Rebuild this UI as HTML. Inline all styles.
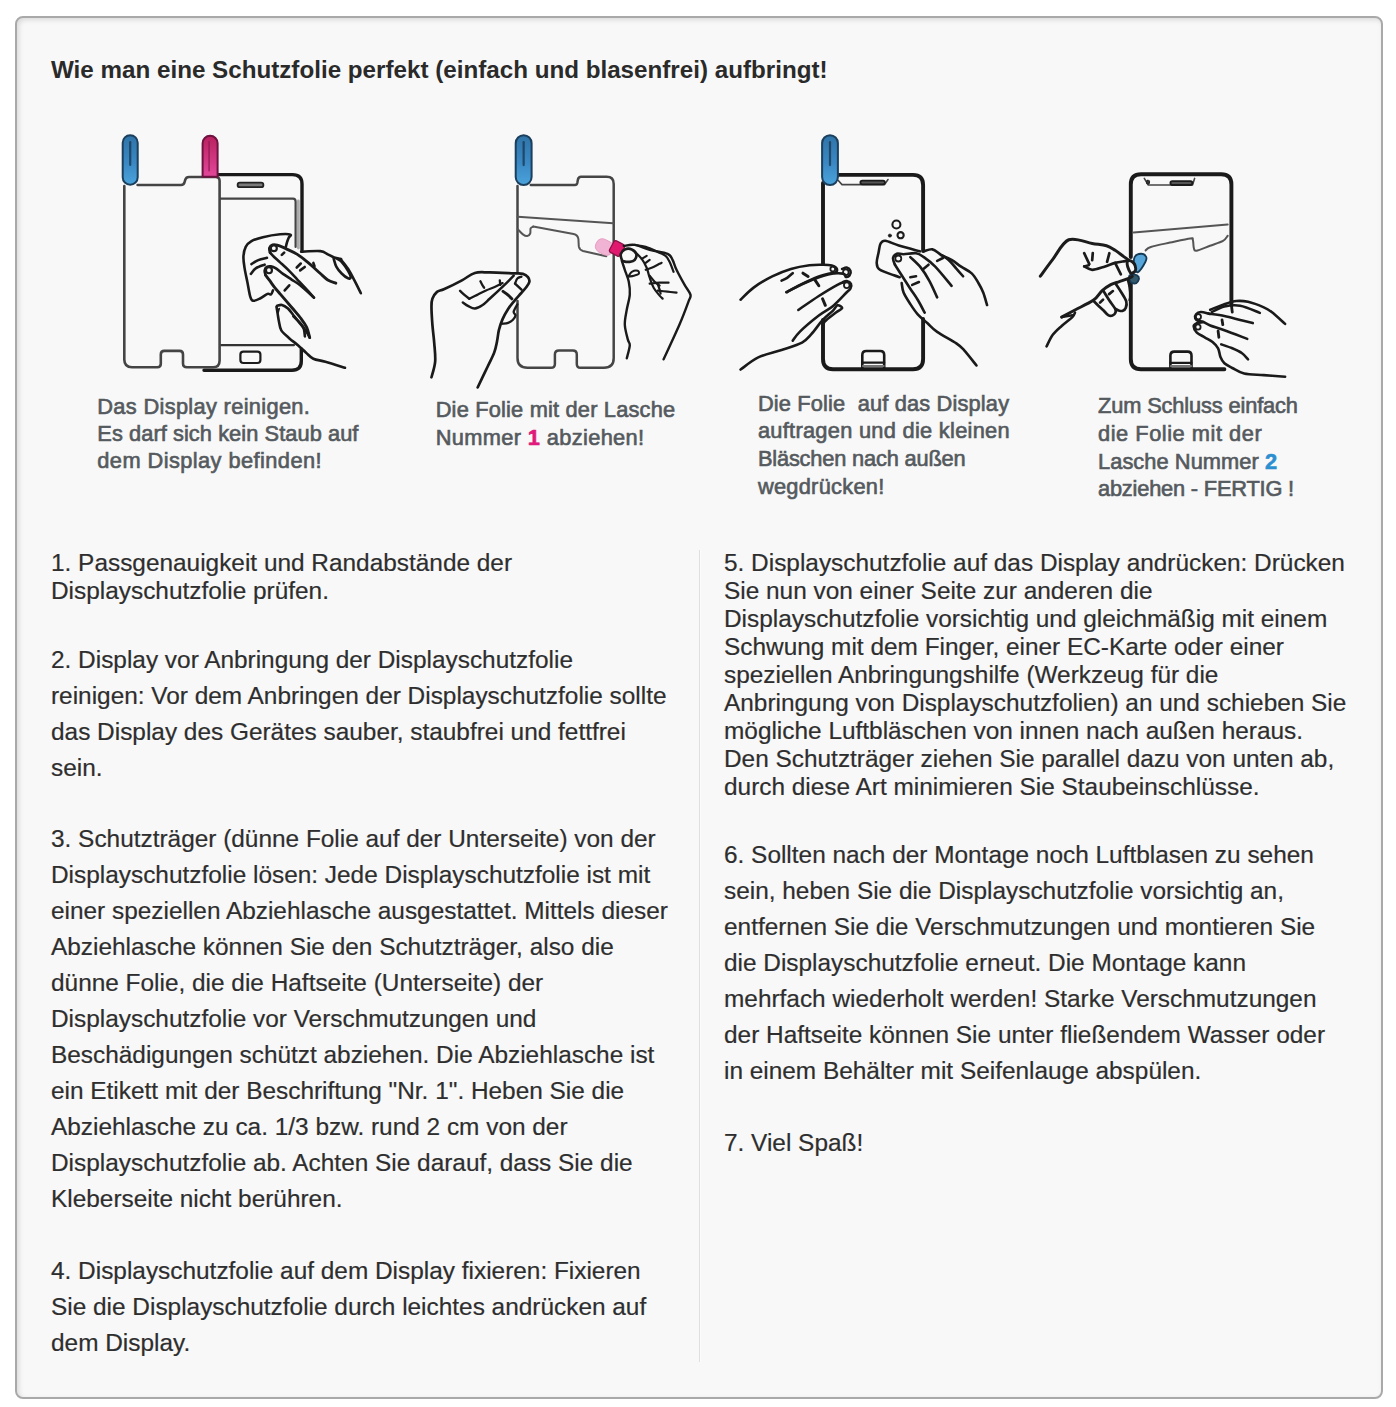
<!DOCTYPE html>
<html><head><meta charset="utf-8">
<style>
html,body{margin:0;padding:0;background:#fff;width:1396px;height:1407px;overflow:hidden}
body{font-family:"Liberation Sans",sans-serif;color:#2e2e2e;position:relative}
#box{position:absolute;left:15px;top:16px;width:1364px;height:1379px;border:2px solid #a9a9a9;border-radius:8px;background:#f8f8f8;box-shadow:inset 2px 2px 5px rgba(0,0,0,0.12)}
.t{position:absolute;white-space:nowrap;font-size:24.4px;-webkit-text-stroke:0.2px #2e2e2e}
h1{position:absolute;left:51px;top:56px;margin:0;font-size:24.2px;font-weight:bold;line-height:28px;white-space:nowrap;color:#2a2a2a}
.l28{line-height:28px}
.l36{line-height:36px}
#div{position:absolute;left:699px;top:550px;width:1px;height:812px;background:#dfdfdf;box-shadow:1px 0 0 #fcfcfc}
.cap{position:absolute;white-space:nowrap;font-weight:normal;font-size:21.8px;line-height:27.7px;color:#555a5e;-webkit-text-stroke:0.65px #555a5e}
.cap b{-webkit-text-stroke:0.6px currentColor}
svg{position:absolute;left:0;top:0}
</style></head><body>
<div id="box"></div>
<h1>Wie man eine Schutzfolie perfekt (einfach und blasenfrei) aufbringt!</h1>

<div id="div"></div>

<div class="t l28" style="left:51px;top:549px">1. Passgenauigkeit und Randabstände der<br>Displayschutzfolie prüfen.</div>
<div class="t l36" style="left:51px;top:642px">2. Display vor Anbringung der Displayschutzfolie<br>reinigen: Vor dem Anbringen der Displayschutzfolie sollte<br>das Display des Gerätes sauber, staubfrei und fettfrei<br>sein.</div>
<div class="t l36" style="left:51px;top:821px">3. Schutzträger (dünne Folie auf der Unterseite) von der<br>Displayschutzfolie lösen: Jede Displayschutzfolie ist mit<br>einer speziellen Abziehlasche ausgestattet. Mittels dieser<br>Abziehlasche können Sie den Schutzträger, also die<br>dünne Folie, die die Haftseite (Unterseite) der<br>Displayschutzfolie vor Verschmutzungen und<br>Beschädigungen schützt abziehen. Die Abziehlasche ist<br>ein Etikett mit der Beschriftung "Nr. 1". Heben Sie die<br>Abziehlasche zu ca. 1/3 bzw. rund 2 cm von der<br>Displayschutzfolie ab. Achten Sie darauf, dass Sie die<br>Kleberseite nicht berühren.</div>
<div class="t l36" style="left:51px;top:1253px">4. Displayschutzfolie auf dem Display fixieren: Fixieren<br>Sie die Displayschutzfolie durch leichtes andrücken auf<br>dem Display.</div>

<div class="t l28" style="left:724px;top:549px">5. Displayschutzfolie auf das Display andrücken: Drücken<br>Sie nun von einer Seite zur anderen die<br>Displayschutzfolie vorsichtig und gleichmäßig mit einem<br>Schwung mit dem Finger, einer EC-Karte oder einer<br>speziellen Anbringungshilfe (Werkzeug für die<br>Anbringung von Displayschutzfolien) an und schieben Sie<br>mögliche Luftbläschen von innen nach außen heraus.<br>Den Schutzträger ziehen Sie parallel dazu von unten ab,<br>durch diese Art minimieren Sie Staubeinschlüsse.</div>
<div class="t l36" style="left:724px;top:837px">6. Sollten nach der Montage noch Luftblasen zu sehen<br>sein, heben Sie die Displayschutzfolie vorsichtig an,<br>entfernen Sie die Verschmutzungen und montieren Sie<br>die Displayschutzfolie erneut. Die Montage kann<br>mehrfach wiederholt werden! Starke Verschmutzungen<br>der Haftseite können Sie unter fließendem Wasser oder<br>in einem Behälter mit Seifenlauge abspülen.</div>
<div class="t l36" style="left:724px;top:1125px">7. Viel Spaß!</div>

<svg width="1396" height="1407" viewBox="0 0 1396 1407" style="position:absolute;left:0;top:0" stroke-linecap="round" stroke-linejoin="round">
<defs><linearGradient id="gb" x1="0" y1="0" x2="0" y2="1"><stop offset="0" stop-color="#2f74a8"/><stop offset="0.55" stop-color="#3a88c3"/><stop offset="1" stop-color="#4ba3dc"/></linearGradient><linearGradient id="gp" x1="0" y1="0" x2="0" y2="1"><stop offset="0" stop-color="#b8205f"/><stop offset="1" stop-color="#e2489a"/></linearGradient></defs>
<path d="M298.4 201V248" fill="none" stroke="#ababab" stroke-width="2.8" />
<path d="M217 174.6H292.5Q302 174.6 302 184V250" fill="none" stroke="#1a1a1a" stroke-width="3.4" />
<path d="M301.3 349V361Q301.3 370.2 292 370.2H204" fill="none" stroke="#1a1a1a" stroke-width="3.4" />
<path d="M220.5 198.6H293Q295.6 198.6 295.6 201.5V247" fill="none" stroke="#444" stroke-width="2.2" />
<path d="M221 345.1H294" fill="none" stroke="#333" stroke-width="2.2" />
<rect x="240.40" y="351.60" width="20.00" height="11.40" rx="3.00" fill="none" stroke="#1c1c1c" stroke-width="2.2"/>
<rect x="237.60" y="182.60" width="25.80" height="4.60" rx="2.30" fill="#7a7a7a" stroke="#222" stroke-width="1.8"/>
<path d="M137.6 185H181Q184 185 184.6 182L185.3 179.6Q186.2 177 189 177H215.6Q219.6 177 219.6 181V360.5Q219.6 367.3 213 367.3H187Q183 367.3 183 363.5V354.6Q183 350.9 179.5 350.9H164.3Q160.8 350.9 160.8 354.4V363.8Q160.8 367.3 157.3 367.3H132Q124.3 367.3 124.3 359.6V186" fill="none" stroke="#444" stroke-width="2.6" />
<rect x="122.70" y="135.20" width="15.00" height="49.50" rx="7.50" fill="url(#gb)" stroke="#1b3f5c" stroke-width="2"/>
<path d="M130.20 142.20V164.90" stroke="#17354f" stroke-width="2.2" opacity="0.75"/>
<path d="M202.60 176.80V143.30A7.50 7.50 0 0 1 217.60 143.30V176.80Z" fill="url(#gp)" stroke="#6e1240" stroke-width="2"/>
<path d="M209.10 141.80V170.65" stroke="#8e1650" stroke-width="1.6" opacity="0.7"/>
<path d="M272.95 290.46C272.62 291.13 271.86 293.91 270.95 294.48C270.04 295.05 269.32 293.23 267.51 293.90C265.69 294.57 262.45 297.34 260.06 298.49C257.67 299.64 254.80 301.07 253.18 300.78C251.56 300.49 251.28 299.83 250.32 296.77C249.36 293.71 248.41 287.22 247.45 282.44C246.49 277.66 245.25 272.41 244.58 268.11C243.91 263.81 243.25 260.18 243.44 256.65C243.63 253.12 244.39 249.49 245.73 246.91C247.07 244.33 248.59 242.80 251.46 241.18C254.33 239.56 258.15 238.32 262.92 237.17C267.69 236.02 275.53 234.73 280.11 234.30C284.69 233.87 289.00 234.02 290.43 234.59C291.86 235.16 289.28 236.45 288.71 237.74C288.14 239.03 287.47 240.80 286.99 242.33C286.51 243.86 286.04 246.15 285.85 246.91" fill="none" stroke="#1a1a1a" stroke-width="2.6" />
<path d="M251.46 264.10C252.61 263.43 255.76 261.14 258.34 260.09C260.92 259.04 265.50 258.18 266.93 257.80" fill="none" stroke="#1a1a1a" stroke-width="2.6" />
<path d="M250.89 273.85C251.75 272.89 253.76 269.64 256.05 268.11C258.34 266.58 263.21 265.25 264.64 264.68" fill="none" stroke="#1a1a1a" stroke-width="2.6" />
<path d="M270.09 252.64C269.99 251.88 269.08 249.35 269.51 248.06C269.94 246.77 271.37 245.39 272.66 244.91C273.95 244.43 275.05 244.57 277.25 245.19C279.45 245.81 282.51 247.10 285.85 248.63C289.19 250.16 293.34 251.81 297.31 254.36C301.28 256.91 305.81 260.74 309.65 263.93C313.48 267.12 317.30 270.85 320.32 273.52C323.34 276.19 325.20 278.32 327.78 279.92C330.36 281.52 334.45 282.59 335.78 283.12" fill="none" stroke="#1c1c1c" stroke-width="2.91" />
<path d="M270.09 252.64C270.80 253.41 272.71 255.61 274.38 257.23C276.05 258.85 277.72 260.18 280.11 262.38C282.50 264.58 285.84 267.54 288.71 270.41C291.58 273.28 294.44 276.52 297.31 279.58C300.18 282.63 303.13 285.73 305.90 288.74C308.67 291.75 312.59 296.15 313.93 297.63" fill="none" stroke="#1a1a1a" stroke-width="2.6" />
<path d="M265.50 274.99C265.36 274.23 264.40 271.75 264.64 270.41C264.88 269.07 265.88 267.64 266.93 266.97C267.98 266.30 269.52 266.21 270.95 266.40C272.38 266.59 273.52 266.87 275.53 268.11C277.53 269.35 280.31 271.94 282.98 273.85C285.66 275.76 288.71 277.67 291.58 279.58C294.44 281.49 296.44 282.30 300.17 285.31C303.90 288.32 311.64 295.58 313.93 297.63" fill="none" stroke="#1a1a1a" stroke-width="2.6" />
<path d="M265.50 274.99C266.22 275.94 268.32 278.71 269.80 280.72C271.28 282.73 272.66 284.83 274.38 287.03C276.10 289.23 277.14 290.41 280.11 293.90C283.08 297.39 288.67 303.80 292.19 307.96C295.71 312.12 298.83 315.62 301.25 318.84C303.67 322.06 305.28 324.18 306.69 327.30C308.10 330.42 309.21 335.86 309.71 337.57" fill="none" stroke="#1c1c1c" stroke-width="2.91" />
<circle cx="273.81" cy="248.17" r="3.00" fill="none" stroke="#1c1c1c" stroke-width="2.2"/>
<circle cx="268.94" cy="270.23" r="3.00" fill="none" stroke="#1c1c1c" stroke-width="2.2"/>
<path d="M277.08 305.85C277.89 305.70 280.11 304.49 281.92 304.94C283.73 305.39 286.05 306.85 287.96 308.56C289.87 310.27 291.69 313.09 293.40 315.21C295.11 317.32 296.52 319.03 298.23 321.25C299.94 323.47 302.56 325.98 303.67 328.50C304.78 331.02 304.68 335.05 304.88 336.36" fill="none" stroke="#1a1a1a" stroke-width="2.6" />
<path d="M293.40 316.42C294.71 317.73 299.03 321.65 301.25 324.27C303.47 326.89 305.28 329.91 306.69 332.13C308.10 334.35 309.21 336.66 309.71 337.57" fill="none" stroke="#1a1a1a" stroke-width="2.6" />
<path d="M276.48 306.75C276.68 307.96 277.29 311.58 277.69 314.00C278.09 316.42 278.30 318.53 278.90 321.25C279.50 323.97 279.60 327.50 281.31 330.32C283.02 333.14 286.35 335.65 289.17 338.17C291.99 340.69 295.41 343.00 298.23 345.42C301.05 347.84 303.57 350.45 306.09 352.67C308.61 354.89 310.12 357.21 313.34 358.72C316.56 360.23 320.14 360.23 325.42 361.74C330.70 363.25 341.74 366.77 345.00 367.78" fill="none" stroke="#1a1a1a" stroke-width="2.6" />
<path d="M277.99 312.79L279.20 308.56" fill="none" stroke="#1a1a1a" stroke-width="1.8" />
<path d="M301.12 251.66C304.32 251.57 315.88 250.69 320.32 251.13C324.76 251.57 325.47 253.26 327.78 254.33C330.09 255.40 331.96 256.73 334.18 257.53C336.40 258.33 339.96 258.86 341.11 259.13" fill="none" stroke="#1a1a1a" stroke-width="2.6" />
<path d="M333.65 258.59C334.09 259.92 334.98 264.10 336.31 266.59C337.64 269.08 339.69 271.56 341.64 273.52C343.59 275.47 346.53 277.70 348.04 278.32C349.55 278.94 350.71 278.50 350.71 277.26C350.71 276.02 349.55 273.44 348.04 270.86C346.53 268.28 343.42 263.78 341.64 261.79C339.86 259.80 338.09 259.39 337.38 258.91" fill="none" stroke="#1a1a1a" stroke-width="2.6" />
<path d="M340.58 259.13C341.82 260.73 345.73 265.17 348.04 268.72C350.35 272.27 352.31 276.36 354.44 280.45C356.57 284.54 359.77 291.12 360.84 293.25" fill="none" stroke="#1a1a1a" stroke-width="2.6" />
<path d="M281.83 254.93L284.13 252.64" fill="none" stroke="#1a1a1a" stroke-width="2.6" />
<path d="M296.73 267.54L300.74 263.53" fill="none" stroke="#1a1a1a" stroke-width="2.6" />
<path d="M300.17 270.41L304.76 266.97" fill="none" stroke="#1a1a1a" stroke-width="2.6" />
<path d="M284.70 290.46L289.28 285.31" fill="none" stroke="#1a1a1a" stroke-width="2.6" />
<path d="M313.35 262.96L314.50 266.11" fill="none" stroke="#1a1a1a" stroke-width="2.6" />
<path d="M530.8 185H575Q576.8 185 577.3 183L577.9 179.6Q578.6 176.8 581 176.8H606.7Q613.7 176.8 613.7 184V358Q613.7 367.8 604 367.8H580.5Q576.8 367.8 576.8 364V354.6Q576.8 350.6 572.8 350.6H559Q554.9 350.6 554.9 354.6V364Q554.9 367.8 551 367.8H527.5Q517.5 367.8 517.5 358V301" fill="none" stroke="#454545" stroke-width="2.5" />
<path d="M517.5 272V186" fill="none" stroke="#454545" stroke-width="2.5" />
<path d="M517.7 216.8L613.2 223.2" fill="none" stroke="#555" stroke-width="2.0" />
<path d="M517.70 229.20C518.57 230.07 521.32 233.25 522.90 234.40C524.48 235.55 525.98 236.25 527.20 236.10C528.42 235.95 529.63 234.78 530.20 233.50C530.77 232.22 530.10 229.55 530.60 228.40C531.10 227.25 532.77 226.90 533.20 226.60" fill="none" stroke="#555" stroke-width="2.0" />
<path d="M533.2 226.6L573.6 234Q577.9 235 578.4 239L578.8 246.4Q579.5 250 583 251L606.3 256.3" fill="none" stroke="#555" stroke-width="2.0" />
<rect x="515.70" y="135.20" width="15.90" height="49.80" rx="7.95" fill="url(#gb)" stroke="#1b3f5c" stroke-width="2"/>
<path d="M523.65 142.20V165.08" stroke="#17354f" stroke-width="2.2" opacity="0.75"/>
<g transform="translate(604.5 247) rotate(28)"><rect x="-9" y="-7" width="18" height="14" rx="6" fill="#f1b3d3" stroke="#e8a0c4" stroke-width="1"/></g>
<g transform="translate(617 248.5) rotate(28)"><rect x="-6" y="-6.5" width="12" height="13" rx="2" fill="#e0196f" stroke="#8a1046" stroke-width="1.2"/></g>
<path d="M431.47 377.30C432.09 374.68 434.70 367.30 435.16 361.60C435.62 355.91 434.70 349.29 434.24 343.13C433.78 336.97 432.85 330.81 432.39 324.65C431.93 318.49 431.47 310.49 431.47 306.18C431.47 301.87 431.47 301.18 432.39 298.79C433.31 296.40 435.01 293.48 437.01 291.86C439.01 290.24 440.25 291.01 444.40 289.09C448.55 287.17 456.86 283.01 461.94 280.32C467.02 277.63 470.26 274.24 474.88 272.93C479.50 271.62 483.19 272.39 489.65 272.47C496.11 272.55 508.13 273.16 513.67 273.39C519.21 273.62 520.51 273.23 522.90 273.85C525.28 274.47 526.90 275.78 527.98 277.09C529.06 278.40 529.60 280.08 529.37 281.70C529.14 283.31 527.99 284.85 526.60 286.78C525.22 288.70 523.06 290.94 521.06 293.25C519.06 295.56 516.75 298.02 514.59 300.64C512.44 303.26 510.13 305.87 508.13 308.95C506.13 312.03 504.12 315.57 502.58 319.11C501.04 322.65 499.81 326.50 498.89 330.19C497.97 333.88 497.81 337.58 497.04 341.28C496.27 344.97 495.81 348.20 494.27 352.36C492.73 356.52 490.58 360.37 487.81 366.22C485.04 372.07 479.34 383.92 477.65 387.46" fill="none" stroke="#1a1a1a" stroke-width="2.7" />
<path d="M515.05 283.55L521.52 289.56" fill="none" stroke="#1a1a1a" stroke-width="2.5" />
<path d="M515.05 283.55C515.43 282.70 516.28 279.62 517.36 278.47C518.44 277.32 520.83 276.94 521.52 276.63" fill="none" stroke="#1a1a1a" stroke-width="2.2" />
<path d="M513.67 275.70C511.98 277.39 507.51 282.01 503.51 285.86C499.51 289.71 493.19 295.56 489.65 298.79C486.11 302.02 484.72 303.64 482.26 305.26C479.80 306.88 477.19 308.34 474.88 308.49C472.57 308.64 470.41 307.18 468.41 306.18C466.41 305.18 463.79 303.11 462.87 302.49" fill="none" stroke="#1a1a1a" stroke-width="2.5" />
<path d="M460.10 290.94C460.87 291.63 463.18 293.79 464.72 295.10C466.26 296.41 468.56 298.18 469.33 298.79" fill="none" stroke="#1a1a1a" stroke-width="2.5" />
<path d="M469.33 298.79C470.56 298.18 473.95 296.49 476.72 295.10C479.49 293.72 482.88 291.87 485.96 290.48C489.04 289.09 492.42 288.01 495.19 286.78C497.96 285.55 501.35 283.70 502.58 283.09" fill="none" stroke="#1a1a1a" stroke-width="2.3" />
<path d="M480.42 281.24C480.73 281.86 481.64 283.86 482.26 284.94C482.88 286.02 483.80 287.25 484.11 287.71" fill="none" stroke="#1a1a1a" stroke-width="2.3" />
<path d="M499.81 280.32L500.27 284.94" fill="none" stroke="#1a1a1a" stroke-width="2.3" />
<path d="M503.05 291.40C503.90 292.02 506.67 293.87 508.13 295.10C509.59 296.33 511.20 298.18 511.82 298.79" fill="none" stroke="#1a1a1a" stroke-width="3.0" />
<path d="M502.58 323.73C503.50 323.58 506.44 323.43 508.13 322.81C509.82 322.19 511.51 321.27 512.74 320.04C513.97 318.81 515.36 316.81 515.51 315.42C515.66 314.03 513.36 313.57 513.67 311.72C513.98 309.87 516.75 305.56 517.36 304.33" fill="none" stroke="#1a1a1a" stroke-width="2.3" />
<path d="M623.81 245.91C625.63 245.75 630.44 244.26 634.75 244.92C639.06 245.58 644.20 248.40 649.67 249.89C655.14 251.38 663.76 252.21 667.57 253.87C671.38 255.53 671.06 257.19 672.55 259.84C674.04 262.49 674.53 265.64 676.52 269.78C678.51 273.92 682.16 280.56 684.48 284.70C686.80 288.84 689.79 291.82 690.45 294.64C691.11 297.46 690.28 296.64 688.46 301.61C686.64 306.58 683.65 314.87 679.51 324.48C675.37 334.09 666.25 353.49 663.60 359.29" fill="none" stroke="#1a1a1a" stroke-width="2.4" />
<path d="M634.75 244.92C636.57 245.25 641.88 245.75 645.69 246.91C649.50 248.07 654.32 250.39 657.63 251.88C660.94 253.37 663.59 254.20 665.58 255.86C667.57 257.52 668.23 259.17 669.56 261.82C670.89 264.47 672.88 270.11 673.54 271.77" fill="none" stroke="#1a1a1a" stroke-width="2.2" />
<path d="M621.82 259.84C621.32 258.60 620.33 255.61 620.83 253.87C621.33 252.13 622.99 250.14 624.81 249.39C626.63 248.64 629.86 248.64 631.77 249.39C633.68 250.14 635.75 252.13 636.25 253.87C636.75 255.61 635.83 258.51 634.75 259.84C633.67 261.16 631.60 261.57 629.78 261.82C627.96 262.07 625.14 261.66 623.81 261.33C622.48 261.00 622.32 261.08 621.82 259.84Z" fill="none" stroke="#1c1c1c" stroke-width="2.69" />
<path d="M621.82 260.83C622.32 262.32 623.65 266.30 624.81 269.78C625.97 273.26 627.96 277.58 628.79 281.72C629.62 285.86 630.11 290.00 629.78 294.64C629.45 299.28 627.63 304.59 626.80 309.56C625.97 314.53 624.64 319.51 624.81 324.48C624.97 329.45 626.96 335.92 627.79 339.40C628.62 342.88 629.94 342.22 629.78 345.37C629.62 348.52 627.30 356.14 626.80 358.29" fill="none" stroke="#1a1a1a" stroke-width="2.4" />
<path d="M628.79 275.75C629.29 275.09 630.28 272.60 631.77 271.77C633.26 270.94 636.58 270.45 637.74 270.78C638.90 271.11 639.39 272.93 638.73 273.76C638.07 274.59 635.42 275.25 633.76 275.75C632.10 276.25 629.62 276.57 628.79 276.74" fill="none" stroke="#1a1a1a" stroke-width="2.0" />
<path d="M633.76 250.89C635.09 252.21 639.57 256.02 641.72 258.84C643.88 261.66 645.37 264.64 646.69 267.79C648.02 270.94 648.51 274.43 649.67 277.74C650.83 281.06 651.99 284.70 653.65 287.68C655.31 290.66 658.13 293.82 659.62 295.64C661.11 297.46 662.10 298.12 662.60 298.62" fill="none" stroke="#1a1a1a" stroke-width="2.2" />
<path d="M641.72 258.84L646.69 255.86" fill="none" stroke="#1a1a1a" stroke-width="2.2" />
<path d="M645.69 262.82L649.67 259.84" fill="none" stroke="#1a1a1a" stroke-width="2.2" />
<path d="M645.69 269.78C646.69 269.45 649.34 268.79 651.66 267.79C653.98 266.80 657.96 264.64 659.62 263.81C661.28 262.98 661.28 262.99 661.61 262.82" fill="none" stroke="#1a1a1a" stroke-width="2.2" />
<path d="M649.67 283.70C651.33 283.53 656.47 282.88 659.62 282.71C662.77 282.54 667.08 282.71 668.57 282.71" fill="none" stroke="#1a1a1a" stroke-width="2.2" />
<path d="M657.63 290.67C659.29 290.84 664.42 291.33 667.57 291.66C670.72 291.99 675.03 292.49 676.52 292.66" fill="none" stroke="#1a1a1a" stroke-width="2.2" />
<path d="M649.67 275.75C650.50 276.75 652.98 280.06 654.64 281.72C656.30 283.38 658.79 285.03 659.62 285.69" fill="none" stroke="#1a1a1a" stroke-width="2.2" />
<path d="M657.63 283.70C657.96 284.69 659.12 288.01 659.62 289.67C660.12 291.33 660.45 292.99 660.61 293.65" fill="none" stroke="#1a1a1a" stroke-width="2.2" />
<path d="M838.5 174.9H913Q923.1 174.9 923.1 185V251" fill="none" stroke="#1a1a1a" stroke-width="3.9" />
<path d="M823 264V183" fill="none" stroke="#1a1a1a" stroke-width="3.9" />
<path d="M823 320V359Q823 369.2 833 369.2H913Q923.1 369.2 923.1 359V319" fill="none" stroke="#1a1a1a" stroke-width="3.9" />
<path d="M838.3 180.5L842 184.6H884.5L888 179.5" fill="none" stroke="#444" stroke-width="1.6" />
<rect x="860.40" y="180.60" width="24.50" height="3.80" rx="1.90" fill="#555" stroke="#1a1a1a" stroke-width="1.8"/>
<path d="M862.3 368V355Q862.3 351 866.3 351H880.2Q884.2 351 884.2 355V368" fill="none" stroke="#1a1a1a" stroke-width="2.6" />
<path d="M862.3 362.7H884.2" fill="none" stroke="#1a1a1a" stroke-width="2.2" />
<path d="M863 366H883.6" fill="none" stroke="#777" stroke-width="2.2" />
<rect x="822.10" y="135.20" width="15.80" height="49.80" rx="7.90" fill="url(#gb)" stroke="#1b3f5c" stroke-width="2"/>
<path d="M830.00 142.20V165.08" stroke="#17354f" stroke-width="2.2" opacity="0.75"/>
<circle cx="896.40" cy="224.50" r="4.00" fill="none" stroke="#1c1c1c" stroke-width="2.1"/>
<circle cx="900.60" cy="235.20" r="3.10" fill="none" stroke="#1c1c1c" stroke-width="2.1"/>
<circle cx="889.90" cy="235.60" r="1.70" fill="#1c1c1c" stroke="#1c1c1c" stroke-width="0.5"/>
<path d="M740.59 299.70C742.76 297.68 748.35 291.47 753.63 287.59C758.91 283.71 766.04 279.52 772.25 276.42C778.46 273.32 784.67 270.83 790.88 268.97C797.09 267.11 804.07 265.94 809.50 265.24C814.93 264.54 819.75 264.75 823.47 264.78C827.20 264.81 829.75 264.97 831.85 265.43C833.95 265.89 835.19 266.67 836.04 267.57C836.89 268.47 837.20 269.94 836.97 270.83C836.74 271.71 835.66 272.49 834.65 272.88C833.64 273.27 833.56 272.57 830.92 273.16C828.28 273.75 823.93 274.48 818.81 276.42C813.69 278.36 805.47 282.19 800.19 284.80C794.91 287.41 789.32 290.85 787.15 292.06" fill="none" stroke="#1a1a1a" stroke-width="2.6" />
<path d="M781.56 280.61C782.49 280.14 785.29 279.06 787.15 277.82C789.01 276.58 791.81 273.94 792.74 273.16" fill="none" stroke="#1a1a1a" stroke-width="2.6" />
<path d="M842.10 268.97C842.88 268.74 845.35 267.26 846.75 267.57C848.15 267.88 850.01 269.51 850.48 270.83C850.95 272.15 850.33 274.48 849.55 275.49C848.77 276.50 846.91 277.19 845.82 276.88C844.73 276.57 845.98 274.02 843.03 273.63C840.08 273.24 834.49 273.01 828.13 274.56C821.77 276.11 811.84 279.99 804.85 282.94C797.87 285.89 789.33 290.70 786.22 292.25" fill="none" stroke="#1a1a1a" stroke-width="2.6" />
<path d="M843.03 282.01C843.65 281.86 845.43 280.77 846.75 281.08C848.07 281.39 850.32 282.63 850.94 283.87C851.56 285.11 851.18 287.13 850.48 288.53C849.78 289.93 849.70 289.30 846.75 292.25C843.80 295.20 837.44 302.34 832.78 306.22C828.12 310.10 824.24 311.34 818.81 315.53C813.38 319.72 804.54 327.17 800.19 331.36C795.85 335.55 793.98 339.13 792.74 340.68" fill="none" stroke="#1a1a1a" stroke-width="2.6" />
<path d="M844.89 282.01C843.65 282.48 841.79 282.47 837.44 284.80C833.09 287.13 825.33 291.79 818.81 295.98C812.29 300.17 801.74 307.62 798.33 309.95" fill="none" stroke="#1a1a1a" stroke-width="2.6" />
<path d="M740.59 369.55C743.54 367.53 751.45 360.70 758.28 357.44C765.11 354.18 774.26 352.47 781.56 349.99C788.85 347.51 797.08 345.18 802.05 342.54C807.02 339.90 807.95 337.89 811.36 334.16C814.77 330.44 818.97 324.07 822.54 320.19C826.11 316.31 830.30 313.36 832.78 310.88C835.26 308.40 835.89 305.76 837.44 305.29C838.99 304.82 842.41 306.84 842.10 308.08C841.79 309.32 838.53 310.41 835.58 312.74C832.63 315.07 826.57 319.26 824.40 322.05C822.23 324.84 822.85 328.26 822.54 329.50" fill="none" stroke="#1a1a1a" stroke-width="2.6" />
<circle cx="832.78" cy="268.97" r="2.40" fill="none" stroke="#1c1c1c" stroke-width="1.8"/>
<circle cx="845.82" cy="272.23" r="2.80" fill="none" stroke="#1c1c1c" stroke-width="1.8"/>
<circle cx="846.75" cy="285.27" r="2.80" fill="none" stroke="#1c1c1c" stroke-width="1.8"/>
<path d="M802.98 273.16L808.10 276.42" fill="none" stroke="#1a1a1a" stroke-width="3.0" />
<path d="M815.09 280.14L818.81 285.73" fill="none" stroke="#1a1a1a" stroke-width="3.0" />
<path d="M822.54 298.77L825.33 305.29" fill="none" stroke="#1a1a1a" stroke-width="3.0" />
<path d="M919.89 251.31C916.37 250.35 904.54 247.31 898.78 245.55C893.02 243.79 888.39 241.08 885.35 240.76C882.31 240.44 881.67 241.71 880.55 243.63C879.43 245.55 879.27 249.07 878.63 252.27C877.99 255.47 876.56 259.94 876.72 262.82C876.88 265.70 876.71 267.46 879.59 269.54C882.47 271.62 890.63 274.02 893.99 275.30C897.35 276.58 898.78 276.89 899.74 277.21" fill="none" stroke="#1a1a1a" stroke-width="2.6" />
<path d="M894.94 264.74C894.62 263.62 892.71 259.87 893.03 258.03C893.35 256.19 895.10 254.35 896.86 253.71C898.62 253.07 900.38 254.27 903.58 254.19C906.78 254.11 912.69 252.75 916.05 253.23C919.41 253.71 920.53 254.83 923.73 257.07C926.93 259.31 930.60 261.86 935.24 266.66C939.88 271.46 948.83 282.65 951.55 285.85" fill="none" stroke="#1a1a1a" stroke-width="2.6" />
<path d="M894.94 264.74C896.06 266.50 899.10 271.30 901.66 275.30C904.22 279.30 907.58 284.57 910.30 288.73C913.02 292.89 915.57 296.24 917.97 300.24C920.37 304.24 923.57 310.63 924.69 312.71" fill="none" stroke="#1a1a1a" stroke-width="2.6" />
<circle cx="898.30" cy="258.51" r="3.00" fill="none" stroke="#1c1c1c" stroke-width="1.8"/>
<path d="M910.30 257.07C912.06 258.83 917.65 263.62 920.85 267.62C924.05 271.62 926.76 276.09 929.48 281.05C932.20 286.01 935.88 294.64 937.16 297.36" fill="none" stroke="#1a1a1a" stroke-width="2.6" />
<path d="M923.73 251.31C925.17 250.99 929.64 248.91 932.36 249.39C935.08 249.87 937.32 252.43 940.04 254.19C942.76 255.95 945.95 257.54 948.67 259.94C951.39 262.34 953.95 265.86 956.35 268.58C958.75 271.30 961.94 274.97 963.06 276.25" fill="none" stroke="#1a1a1a" stroke-width="2.6" />
<path d="M941.00 255.15C942.76 255.95 948.19 258.02 951.55 259.94C954.91 261.86 957.78 264.42 961.14 266.66C964.50 268.90 968.82 270.66 971.70 273.38C974.58 276.10 976.49 279.77 978.41 282.97C980.33 286.17 981.77 288.89 983.21 292.57C984.65 296.25 986.41 302.96 987.05 305.04" fill="none" stroke="#1a1a1a" stroke-width="2.6" />
<path d="M901.66 282.97C901.98 284.57 902.14 289.05 903.58 292.57C905.02 296.09 907.90 300.40 910.30 304.08C912.70 307.76 915.09 311.43 917.97 314.63C920.85 317.83 924.37 320.39 927.57 323.27C930.77 326.15 932.36 328.54 937.16 331.90C941.96 335.26 951.87 340.37 956.35 343.41C960.83 346.45 960.66 346.45 964.02 350.13C967.38 353.81 974.42 362.92 976.50 365.48" fill="none" stroke="#1a1a1a" stroke-width="2.6" />
<path d="M922.77 269.54L928.52 264.74" fill="none" stroke="#1a1a1a" stroke-width="2.6" />
<path d="M937.16 260.90L942.92 258.03" fill="none" stroke="#1a1a1a" stroke-width="2.6" />
<path d="M910.30 277.21L916.05 276.25" fill="none" stroke="#1a1a1a" stroke-width="2.6" />
<path d="M912.21 284.89L918.93 282.01" fill="none" stroke="#1a1a1a" stroke-width="2.6" />
<path d="M1224.4 369.3H1141Q1130.8 369.3 1130.8 359V283" fill="none" stroke="#1a1a1a" stroke-width="3.9" />
<path d="M1130.8 257V184.5Q1130.8 174.3 1141 174.3H1221.2Q1231.4 174.3 1231.4 184.5V304" fill="none" stroke="#1a1a1a" stroke-width="3.9" />
<path d="M1144.3 178.4L1148.3 185H1192.5L1194.6 178.4" fill="none" stroke="#444" stroke-width="1.6" />
<rect x="1170.40" y="181.20" width="22.00" height="3.80" rx="1.90" fill="#555" stroke="#1a1a1a" stroke-width="1.8"/>
<rect x="1146.50" y="180.40" width="3.00" height="3.50" rx="0.80" fill="#333" stroke="#222" stroke-width="1.0"/>
<path d="M1170.4 368V355.5Q1170.4 351.6 1174.3 351.6H1187.6Q1191.5 351.6 1191.5 355.5V368" fill="none" stroke="#1a1a1a" stroke-width="2.6" />
<path d="M1170.4 362.9H1191.5" fill="none" stroke="#1a1a1a" stroke-width="2.2" />
<path d="M1171 366.2H1191" fill="none" stroke="#777" stroke-width="2.2" />
<path d="M1133.6 232.4L1227.7 224.6" fill="none" stroke="#555" stroke-width="2.0" />
<path d="M1145.60 250.40C1146.47 249.83 1146.73 248.30 1150.80 247.00C1154.87 245.70 1163.42 244.03 1170.00 242.60C1176.58 241.17 1186.48 238.82 1190.30 238.40C1194.12 237.98 1192.32 238.53 1192.90 240.10C1193.48 241.67 1193.23 246.02 1193.80 247.80C1194.37 249.58 1193.60 251.13 1196.30 250.80C1199.00 250.47 1205.55 247.45 1210.00 245.80C1214.45 244.15 1220.05 242.57 1223.00 240.90C1225.95 239.23 1226.92 236.65 1227.70 235.80" fill="none" stroke="#555" stroke-width="2.0" />
<path d="M1134.60 257.19C1135.65 254.90 1138.99 253.84 1140.90 253.75C1142.81 253.66 1145.30 255.28 1146.06 256.62C1146.82 257.96 1146.83 259.20 1145.49 261.78C1144.15 264.36 1139.86 271.13 1138.04 272.09C1136.22 273.04 1135.17 269.99 1134.60 267.51C1134.03 265.03 1133.55 259.48 1134.60 257.19Z" fill="#57a6d9" stroke="#173a55" stroke-width="1.8" />
<path d="M1129.44 275.53C1130.11 274.38 1132.50 274.19 1134.03 274.38C1135.56 274.57 1137.94 275.53 1138.61 276.68C1139.28 277.83 1138.71 280.12 1138.04 281.26C1137.37 282.40 1135.94 283.55 1134.60 283.55C1133.26 283.55 1130.87 282.60 1130.01 281.26C1129.15 279.92 1128.77 276.68 1129.44 275.53Z" fill="#34596b" stroke="#173a55" stroke-width="1.8" />
<path d="M1128.30 260.63C1129.16 260.25 1131.16 260.92 1132.31 261.78C1133.45 262.64 1134.69 264.26 1135.17 265.79C1135.65 267.32 1135.84 269.71 1135.17 270.95C1134.50 272.19 1132.21 273.43 1131.16 273.24C1130.11 273.05 1129.54 271.33 1128.87 269.80C1128.20 268.27 1127.25 265.60 1127.15 264.07C1127.06 262.54 1127.44 261.01 1128.30 260.63Z" fill="#f8f8f8" stroke="#1c1c1c" stroke-width="2.91" />
<path d="M1040.33 276.20C1042.40 273.39 1048.03 265.39 1052.77 259.32C1057.51 253.25 1062.19 242.42 1068.76 239.77C1075.33 237.12 1085.90 242.45 1092.19 243.44C1098.48 244.43 1102.70 244.58 1106.52 245.73C1110.34 246.88 1112.24 248.50 1115.11 250.32C1117.97 252.13 1121.51 255.05 1123.71 256.62C1125.91 258.19 1127.53 259.25 1128.30 259.77" fill="none" stroke="#1c1c1c" stroke-width="3.02" />
<path d="M1084.17 266.36C1085.51 266.93 1088.94 269.71 1092.19 269.80C1095.44 269.89 1099.83 268.08 1103.65 266.93C1107.47 265.78 1111.57 263.88 1115.11 262.92C1118.64 261.97 1122.66 261.58 1124.86 261.20C1127.06 260.82 1127.73 260.73 1128.30 260.63" fill="none" stroke="#1a1a1a" stroke-width="2.7" />
<path d="M1084.17 253.18L1089.33 264.07" fill="none" stroke="#1a1a1a" stroke-width="2.7" />
<path d="M1092.77 253.18L1092.19 260.06" fill="none" stroke="#1a1a1a" stroke-width="2.7" />
<path d="M1109.38 253.18L1107.09 261.78" fill="none" stroke="#1a1a1a" stroke-width="2.7" />
<path d="M1115.11 262.92L1120.85 274.38" fill="none" stroke="#1a1a1a" stroke-width="2.7" />
<path d="M1084.17 266.36L1088.75 265.21" fill="none" stroke="#1a1a1a" stroke-width="2.5" />
<path d="M1061.65 317.07C1063.87 315.88 1069.66 312.79 1074.98 309.96C1080.30 307.13 1089.05 303.30 1093.59 300.08C1098.12 296.86 1099.33 293.21 1102.19 290.63C1105.06 288.05 1107.91 286.12 1110.78 284.61C1113.64 283.11 1116.52 282.60 1119.38 281.60C1122.25 280.60 1125.82 279.45 1127.97 278.59C1130.12 277.73 1131.55 276.81 1132.27 276.45" fill="none" stroke="#1c1c1c" stroke-width="3.02" />
<path d="M1103.48 291.06C1104.41 292.56 1107.14 297.14 1109.07 300.08C1111.00 303.02 1114.01 306.60 1115.08 308.68C1116.15 310.76 1115.94 311.40 1115.51 312.54C1115.08 313.69 1113.72 315.12 1112.50 315.55C1111.28 315.98 1109.79 316.05 1108.21 315.12C1106.63 314.19 1104.77 311.62 1103.05 309.97C1101.33 308.32 1099.47 306.75 1097.89 305.24C1096.31 303.74 1094.31 301.66 1093.59 300.94" fill="none" stroke="#1a1a1a" stroke-width="2.7" />
<path d="M1115.94 284.18C1116.87 285.61 1119.81 289.91 1121.53 292.78C1123.25 295.64 1125.53 298.86 1126.25 301.37C1126.97 303.88 1126.40 306.24 1125.83 307.82C1125.26 309.40 1124.04 310.40 1122.82 310.83C1121.60 311.26 1119.70 310.72 1118.52 310.40C1117.34 310.08 1116.19 309.14 1115.73 308.89" fill="none" stroke="#1a1a1a" stroke-width="2.7" />
<path d="M1127.97 279.88C1128.26 281.10 1129.26 284.54 1129.69 287.19C1130.12 289.84 1130.55 293.63 1130.55 295.78C1130.55 297.93 1129.83 299.36 1129.69 300.08" fill="none" stroke="#1a1a1a" stroke-width="2.7" />
<path d="M1100.04 302.66L1103.05 299.65" fill="none" stroke="#1a1a1a" stroke-width="2.7" />
<path d="M1109.07 294.07L1112.93 291.06" fill="none" stroke="#1a1a1a" stroke-width="2.7" />
<path d="M1046.55 346.39C1047.59 344.46 1050.25 338.25 1052.77 334.84C1055.29 331.43 1058.39 328.92 1061.65 325.96C1064.91 323.00 1070.10 319.29 1072.32 317.07C1074.54 314.85 1074.54 313.37 1074.98 312.63" fill="none" stroke="#1a1a1a" stroke-width="2.6" />
<path d="M1061.65 317.07L1072.32 315.30" fill="none" stroke="#1a1a1a" stroke-width="2.4" />
<path d="M1210.22 309.70C1212.58 308.78 1220.07 305.62 1224.40 304.18C1228.73 302.74 1232.28 301.42 1236.22 301.03C1240.16 300.64 1243.44 300.77 1248.04 301.82C1252.64 302.87 1259.86 305.63 1263.80 307.34C1267.74 309.05 1268.13 309.30 1271.68 312.06C1275.23 314.82 1282.85 321.91 1285.08 323.88" fill="none" stroke="#1a1a1a" stroke-width="2.6" />
<path d="M1211.79 312.06C1213.89 311.14 1219.67 307.60 1224.40 306.55C1229.13 305.50 1234.25 304.71 1240.16 305.76C1246.07 306.81 1256.58 311.67 1259.86 312.85" fill="none" stroke="#1a1a1a" stroke-width="2.6" />
<path d="M1208.64 313.64C1207.33 313.38 1202.86 311.93 1200.76 312.06C1198.66 312.19 1196.95 313.38 1196.03 314.43C1195.11 315.48 1194.85 317.25 1195.24 318.37C1195.63 319.49 1197.22 320.61 1198.40 321.13C1199.58 321.65 1200.37 320.80 1202.34 321.52C1204.31 322.24 1206.54 324.01 1210.22 325.46C1213.90 326.90 1218.23 327.96 1224.40 330.19C1230.57 332.42 1243.44 337.42 1247.25 338.86" fill="none" stroke="#1a1a1a" stroke-width="2.6" />
<path d="M1208.64 313.64C1211.27 314.03 1219.15 314.95 1224.40 316.00C1229.65 317.05 1235.43 318.76 1240.16 319.94C1244.89 321.12 1250.67 322.57 1252.77 323.10" fill="none" stroke="#1a1a1a" stroke-width="2.6" />
<path d="M1202.34 322.31C1201.42 322.44 1198.26 322.44 1196.82 323.10C1195.38 323.76 1193.67 324.68 1193.67 326.25C1193.67 327.82 1194.98 330.71 1196.82 332.55C1198.66 334.39 1202.07 335.70 1204.70 337.28C1207.33 338.86 1210.35 340.17 1212.58 342.01C1214.81 343.85 1216.79 345.81 1218.10 348.31C1219.41 350.81 1219.41 354.48 1220.46 356.98C1221.51 359.48 1222.43 361.45 1224.40 363.29C1226.37 365.13 1229.00 366.30 1232.28 368.01C1235.56 369.72 1238.85 372.35 1244.10 373.53C1249.35 374.71 1256.97 374.59 1263.80 375.11C1270.63 375.63 1281.53 376.42 1285.08 376.68" fill="none" stroke="#1a1a1a" stroke-width="2.6" />
<path d="M1221.25 344.37C1223.09 345.03 1228.87 346.87 1232.28 348.31C1235.69 349.75 1239.11 351.20 1241.74 353.04C1244.37 354.88 1246.99 358.30 1248.04 359.35" fill="none" stroke="#1a1a1a" stroke-width="2.6" />
<circle cx="1198.40" cy="316.79" r="2.60" fill="none" stroke="#1c1c1c" stroke-width="1.8"/>
<circle cx="1198.00" cy="327.04" r="2.60" fill="none" stroke="#1c1c1c" stroke-width="1.8"/>
<path d="M1231.49 305.76L1232.28 312.06" fill="none" stroke="#1a1a1a" stroke-width="2.8" />
<path d="M1222.04 319.94L1222.83 324.67" fill="none" stroke="#1a1a1a" stroke-width="2.8" />
<path d="M1218.10 330.98L1218.88 337.28" fill="none" stroke="#1a1a1a" stroke-width="2.8" />
</svg>
<!-- captions -->
<div class="cap" style="left:97.3px;top:392.5px;line-height:27.25px"><span style="letter-spacing:0.33px">Das Display reinigen.</span><br><span style="letter-spacing:0.07px">Es darf sich kein Staub auf</span><br><span style="letter-spacing:0.43px">dem Display befinden!</span></div>
<div class="cap" style="left:435.7px;top:395.5px;line-height:28.1px"><span style="letter-spacing:0.19px">Die Folie mit der Lasche</span><br><span style="letter-spacing:0.36px">Nummer <b style="color:#e0197a">1</b> abziehen!</span></div>
<div class="cap" style="left:757.9px;top:389.7px;line-height:27.73px"><span style="letter-spacing:0.16px">Die Folie&nbsp; auf das Display</span><br><span style="letter-spacing:0.29px">auftragen und die kleinen</span><br><span style="letter-spacing:-0.17px">Bläschen nach außen</span><br><span style="letter-spacing:0.28px">wegdrücken!</span></div>
<div class="cap" style="left:1098px;top:392px;line-height:27.77px"><span style="letter-spacing:-0.13px">Zum Schluss einfach</span><br><span style="letter-spacing:0.54px">die Folie mit der</span><br><span style="letter-spacing:0.07px">Lasche Nummer <b style="color:#2b8fd0">2</b></span><br><span style="letter-spacing:-0.19px">abziehen - FERTIG !</span></div>
</body></html>
